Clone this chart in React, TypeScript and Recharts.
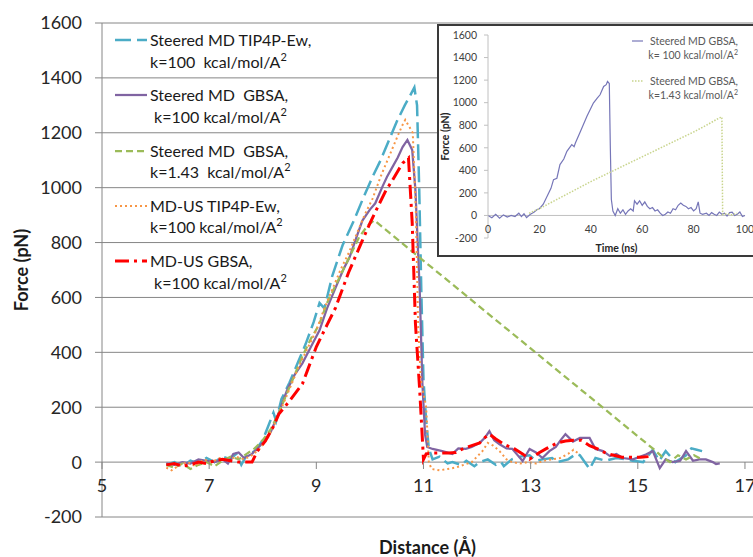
import { LineChart, Line, XAxis, YAxis, CartesianGrid, ReferenceLine } from 'recharts';

const FONT = 'Lato, "Open Sans", sans-serif';

// main chart: force vs pulling distance
const distanceTicks = [5, 7, 9, 11, 13, 15, 17];
const forceTicks = [-200, 0, 200, 400, 600, 800, 1000, 1200, 1400, 1600];

const tip4pSteered: [number, number][] = [
  [6.2, -10], [6.35, 0], [6.5, -15], [6.65, 5], [6.8, -5], [6.95, 15], [7.1, 0], [7.25, 20], [7.4, 10],
  [7.5, 30], [7.6, -10], [7.7, 25], [7.85, 40], [8.0, 80], [8.1, 130], [8.2, 180], [8.25, 150], [8.35, 230],
  [8.5, 290], [8.65, 360], [8.8, 430], [8.95, 510], [9.06, 580], [9.15, 560], [9.3, 680], [9.49, 790],
  [9.7, 880], [9.86, 955], [10.05, 1040], [10.2, 1100], [10.35, 1170], [10.5, 1240], [10.65, 1300],
  [10.75, 1335], [10.83, 1365], [10.88, 1300], [10.92, 1000], [10.96, 620], [11.0, 300], [11.05, 150],
  [11.1, 50], [11.17, 10], [11.3, 20], [11.45, -5], [11.54, 0], [11.7, -10], [11.8, 5], [11.95, -15],
  [12.05, 0], [12.2, 10], [12.35, -10], [12.45, 0], [12.5, -15], [12.65, 10], [12.8, 20], [12.98, 25],
  [13.1, 5], [13.22, 10], [13.4, 15], [13.5, 0], [13.7, 10], [13.85, 30], [13.92, 25], [14.1, -25],
  [14.21, 15], [14.4, 5], [14.6, 15], [14.8, 10], [14.9, 5], [15.1, 0], [15.28, 45], [15.4, 5], [15.52, 40],
  [15.7, 0], [15.9, 25], [16.0, 50], [16.1, 45], [16.2, 40],
];

const gbsaSteered: [number, number][] = [
  [6.2, -5], [6.35, -10], [6.5, 0], [6.65, -5], [6.8, 10], [6.95, 5], [7.1, 0], [7.25, 10], [7.35, -5],
  [7.45, 30], [7.55, 35], [7.65, 15], [7.8, 30], [7.9, 50], [8.0, 70], [8.15, 110], [8.3, 180], [8.45, 260],
  [8.6, 320], [8.74, 360], [8.9, 420], [9.06, 480], [9.2, 560], [9.36, 636], [9.5, 700], [9.62, 746],
  [9.75, 820], [9.86, 880], [10.0, 920], [10.1, 943], [10.23, 1002], [10.32, 1040], [10.42, 1075],
  [10.52, 1110], [10.61, 1148], [10.7, 1174], [10.79, 1137], [10.85, 990], [10.93, 625], [10.98, 285],
  [11.03, 100], [11.07, 55], [11.17, 48], [11.35, 40], [11.54, 30], [11.65, 50], [11.79, 48], [11.9, 55],
  [12.05, 70], [12.15, 90], [12.23, 113], [12.32, 80], [12.42, 65], [12.55, 50], [12.66, 48], [12.78, 20],
  [12.85, 4], [12.98, 48], [13.1, 35], [13.22, 15], [13.35, 40], [13.47, 55], [13.56, 80], [13.65, 102],
  [13.79, 75], [13.92, 88], [14.1, 88], [14.21, 48], [14.35, 40], [14.48, 22], [14.6, 30], [14.72, 15],
  [14.91, 10], [15.05, 20], [15.15, 28], [15.28, 40], [15.41, -22], [15.52, 10], [15.65, 0], [15.79, 5],
  [15.9, 40], [16.03, 5], [16.15, 10], [16.27, 10], [16.4, 0], [16.46, -7], [16.53, -5],
];

const gbsaSteeredSoft: [number, number][] = [
  [6.2, -10], [6.35, -20], [6.5, -5], [6.65, -25], [6.8, -10], [6.95, 0], [7.1, -15], [7.25, 5], [7.4, 20],
  [7.55, 10], [7.7, 30], [7.85, 50], [8.0, 80], [8.15, 120], [8.3, 180], [8.45, 250], [8.6, 320],
  [8.75, 390], [8.9, 450], [9.05, 500], [9.2, 580], [9.35, 640], [9.5, 700], [9.65, 760], [9.8, 820],
  [9.95, 860], [10.08, 881], [15.34, 40], [15.45, 20], [15.6, 0], [15.75, 25], [15.9, 10], [16.05, 25],
  [16.2, 10],
];

const tip4pUmbrella: [number, number][] = [
  [6.2, -20], [6.3, -30], [6.45, -10], [6.6, 0], [6.75, -15], [6.9, 10], [7.05, 0], [7.2, 15], [7.35, 5],
  [7.5, 20], [7.65, 10], [7.8, 25], [7.95, 50], [8.1, 90], [8.25, 150], [8.4, 220], [8.55, 290],
  [8.7, 360], [8.85, 420], [9.0, 480], [9.15, 560], [9.3, 630], [9.45, 700], [9.6, 760], [9.75, 830],
  [9.9, 900], [10.05, 960], [10.2, 1040], [10.35, 1110], [10.5, 1180], [10.6, 1225], [10.66, 1247],
  [10.8, 1200], [10.86, 900], [10.9, 500], [10.95, 300], [11.05, 200], [11.1, 0], [11.15, -25],
  [11.3, -30], [11.45, -25], [11.6, -20], [11.75, -10], [11.9, 0], [12.0, 20], [12.1, 40], [12.2, 70],
  [12.3, 60], [12.42, 40], [12.55, 10], [12.65, 0], [12.8, -5], [12.95, 0], [13.1, -5], [13.25, 5],
  [13.4, 10], [13.55, 15], [13.7, 30], [13.8, 45], [13.9, 30],
];

const gbsaUmbrella: [number, number][] = [
  [6.2, -10], [6.35, -5], [6.5, -15], [6.65, -10], [6.8, 0], [6.95, -5], [7.1, 5], [7.25, 10], [7.4, 5],
  [7.55, 0], [7.8, 0], [7.9, 40], [8.05, 77], [8.2, 130], [8.3, 175], [8.5, 223], [8.74, 285], [9.0, 420],
  [9.2, 500], [9.36, 563], [9.6, 690], [9.86, 808], [10.0, 870], [10.18, 943], [10.3, 990], [10.42, 1027],
  [10.52, 1060], [10.61, 1089], [10.72, 1108], [10.79, 870], [10.85, 505], [10.93, 260], [11.0, 10],
  [11.05, 30], [11.17, 33], [11.3, 33], [11.47, 33], [11.6, 35], [11.75, 50], [11.9, 60], [12.05, 70],
  [12.15, 90], [12.23, 102], [12.35, 84], [12.5, 65], [12.7, 48], [12.85, 30], [12.98, 11], [13.15, 33],
  [13.3, 50], [13.5, 70], [13.65, 77], [13.8, 80], [13.95, 80], [14.1, 60], [14.25, 48], [14.4, 33],
  [14.55, 25], [14.7, 18], [14.9, 18], [15.05, 18], [15.2, 20],
];

const legendTitles = ['Steered MD TIP4P-Ew,', 'Steered MD  GBSA,', 'Steered MD  GBSA,', 'MD-US TIP4P-Ew,', 'MD-US GBSA,'];
const legendConstants = ['k=100  kcal/mol/A', ' k=100 kcal/mol/A', 'k=1.43  kcal/mol/A', 'k=100 kcal/mol/A', ' k=100 kcal/mol/A'];

// inset: force vs time
const timeTicks = [0, 20, 40, 60, 80, 100];
const insetFast: [number, number][] = [
  [0, 0], [1.5, -20], [3, 10], [4.5, -25], [6, 5], [7.5, -15], [9, 0], [10.5, -10], [12, 20], [13, -10],
  [14, 15], [15, -20], [16.5, 10], [18, 30], [19, 50], [20, 60], [21.5, 100], [23, 171], [24.5, 240],
  [25.5, 318], [26.8, 330], [28, 451], [29.5, 500], [30.7, 569], [32.6, 628], [33.5, 610], [34, 642],
  [36, 746], [38.5, 879], [41, 997], [42.5, 1040], [43.6, 1070], [45, 1144], [46, 1160], [46.5, 1188],
  [47.2, 1170], [47.6, 600], [48, 141], [48.6, 38], [49.5, 0], [50.5, 60], [51.5, 20], [52.5, 50],
  [53.5, 10], [54.5, 40], [55.5, 60], [56.5, 40], [57, 130], [58, 100], [59, 130], [60, 90], [61, 120],
  [62, 80], [63, 60], [64, 70], [65, 40], [66, 50], [67, 20], [68, 0], [69, 10], [70, 30], [71, 20],
  [72, 60], [73, 50], [74, 90], [75, 110], [76, 90], [77, 80], [78, 60], [79, 70], [80, 40], [81, 60],
  [81.8, 120], [82.5, 20], [83.5, 10], [85, 20], [86, 0], [87, 25], [88, 10], [89, 0], [90, 30], [91, 10],
  [92, 20], [93, -5], [94, 25], [95, 30], [96, 0], [97, 10], [98, 30], [99, -10], [100, 0],
];
const insetSlow: [number, number][] = [
  [16, 20], [18, 40], [20, 60], [25, 120], [30, 180], [35, 240], [40, 300], [45, 355], [50, 410],
  [55, 465], [60, 520], [65, 575], [70, 630], [75, 685], [80, 740], [85, 800], [90, 865], [91, 872],
  [91.3, 10], [93, 15], [95, 5], [97, 20],
];
const insetLegendTitles = ['Steered MD GBSA,', 'Steered MD GBSA,'];
const insetLegendConstants = ['k= 100 kcal/mol/A', 'k=1.43 kcal/mol/A'];

const toPoints = (pairs: [number, number][]) => pairs.map(([x, y]) => ({ x, y }));

const mainSeries = [tip4pSteered, gbsaSteered, gbsaSteeredSoft, tip4pUmbrella, gbsaUmbrella];
const mainStyles = [
  { stroke: '#4bacc6', width: 2.5, dash: '16 6' },
  { stroke: '#8064a2', width: 2.25, dash: undefined },
  { stroke: '#9bbb59', width: 2.25, dash: '7 4' },
  { stroke: '#f79646', width: 2, dash: '2 3' },
  { stroke: '#ff0000', width: 3, dash: '14 5 3 5' },
];
const insetStyles = [
  { stroke: '#7676b8', width: 1.2, dash: undefined },
  { stroke: '#c8d48c', width: 1.5, dash: '1.5 1.5' },
];

const GRID = '#868686';

// x axis crosses at zero: labels and ticks drawn one grid step above plot bottom
const DistanceTick = (props: any) => {
  const { x, y, payload } = props;
  return (
    <g>
      <line x1={x} x2={x} y1={y - 55} y2={y - 48} stroke={GRID} />
      <text x={x} y={y - 31} dy="0.35em" textAnchor="middle" fontSize={18} fill="#262626" fontFamily={FONT}>
        {payload.value}
      </text>
    </g>
  );
};

const TimeTick = (props: any) => {
  const { x, y, payload } = props;
  return (
    <text x={x} y={y - 9} dy="0.35em" textAnchor="middle" fontSize={10.5} fill="#404040" fontFamily={FONT}>
      {payload.value}
    </text>
  );
};

const Inset = () => (
  <div
    style={{
      position: 'absolute', left: 437, top: 24, width: 330, height: 233, boxSizing: 'border-box',
      border: '2px solid #3a3a3a', background: '#fff',
    }}
  >
    <LineChart width={320} height={229} margin={{ top: 9, right: 14, bottom: 0, left: 0 }}>
      <XAxis
        type="number" dataKey="x" domain={[0, 100]} ticks={timeTicks} height={17}
        axisLine={false} tickLine={false} tickSize={0} tickMargin={0} tick={<TimeTick />}
        label={{ value: 'Time (ns)', position: 'insideBottom', offset: 3, fontSize: 10.5, fontWeight: 700, fill: '#262626', fontFamily: FONT }}
      />
      <YAxis
        type="number" domain={[-200, 1600]} ticks={forceTicks} width={49} interval={0}
        axisLine={{ stroke: '#c0c0c0' }} tickLine={{ stroke: '#c0c0c0' }} tickSize={4} tickMargin={7}
        tick={{ fontSize: 10.5, fill: '#404040', fontFamily: FONT }}
        label={{ value: 'Force (pN)', angle: -90, position: 'insideLeft', offset: 6, fontSize: 10.5, fontWeight: 700, fill: '#262626', fontFamily: FONT, style: { textAnchor: 'middle' } }}
      />
      <ReferenceLine y={0} stroke="#c0c0c0" />
      {[insetFast, insetSlow].map((pairs, i) => (
        <Line
          key={i} data={toPoints(pairs)} dataKey="y" type="linear" dot={false} isAnimationActive={false}
          stroke={insetStyles[i].stroke} strokeWidth={insetStyles[i].width} strokeDasharray={insetStyles[i].dash}
        />
      ))}
    </LineChart>
    <div style={{ position: 'absolute', left: 192, top: 8, width: 107, fontSize: 10.5, lineHeight: '14px', color: '#595959', fontFamily: FONT }}>
      {insetLegendTitles.map((t, i) => (
        <div key={i} style={{ height: 40, position: 'relative', textAlign: 'right', whiteSpace: 'pre' }}>
          <svg width={12} height={14} style={{ position: 'absolute', left: 0, top: 0 }}>
            <line x1={1} x2={12} y1={7} y2={7} stroke={insetStyles[i].stroke} strokeWidth={insetStyles[i].width} strokeDasharray={insetStyles[i].dash} />
          </svg>
          <div>{t}</div>
          <div>
            {insetLegendConstants[i]}
            <span style={{ fontSize: 7, position: 'relative', top: -4 }}>2</span>
          </div>
        </div>
      ))}
    </div>
  </div>
);

const App = () => (
  <div style={{ position: 'absolute', left: 0, top: 0, width: 753, height: 557, overflow: 'hidden', background: '#fff', fontFamily: FONT }}>
    <LineChart width={753} height={557} margin={{ top: 23, right: 0, bottom: 0, left: 0 }}>
      <CartesianGrid vertical={false} stroke={GRID} />
      <XAxis
        type="number" dataKey="x" domain={[5, 17.15]} ticks={distanceTicks} height={40} interval={0}
        axisLine={false} tickLine={false} tickSize={0} tickMargin={0} tick={<DistanceTick />}
        label={{ value: 'Distance (Å)', position: 'insideBottom', offset: 3, fontSize: 18, fontWeight: 700, fill: '#1a1a1a', fontFamily: FONT }}
      />
      <YAxis
        type="number" domain={[-200, 1600]} ticks={forceTicks} width={102} interval={0}
        axisLine={{ stroke: GRID }} tickLine={{ stroke: GRID }} tickSize={7} tickMargin={13}
        tick={{ fontSize: 18, fill: '#262626', fontFamily: FONT }}
        label={{ value: 'Force (pN)', angle: -90, position: 'insideLeft', offset: 22, fontSize: 18, fontWeight: 700, fill: '#1a1a1a', fontFamily: FONT, style: { textAnchor: 'middle' } }}
      />
      {mainSeries.map((pairs, i) => (
        <Line
          key={i} data={toPoints(pairs)} dataKey="y" type="linear" dot={false} isAnimationActive={false}
          stroke={mainStyles[i].stroke} strokeWidth={mainStyles[i].width} strokeDasharray={mainStyles[i].dash}
        />
      ))}
    </LineChart>
    <div style={{ position: 'absolute', left: 113, top: 29, fontSize: 16, lineHeight: '21.5px', color: '#1a1a1a' }}>
      {legendTitles.map((t, i) => (
        <div key={i} style={{ height: 55.3, display: 'flex' }}>
          <svg width={35} height={22} style={{ flex: 'none' }}>
            <line x1={2} x2={34} y1={11} y2={11} stroke={mainStyles[i].stroke} strokeWidth={mainStyles[i].width} strokeDasharray={mainStyles[i].dash} />
          </svg>
          <div style={{ whiteSpace: 'pre', marginLeft: 2 }}>
            <div>{t}</div>
            <div>
              {legendConstants[i]}
              <span style={{ fontSize: 11, position: 'relative', top: -7 }}>2</span>
            </div>
          </div>
        </div>
      ))}
    </div>
    <Inset />
  </div>
);

export default App;
